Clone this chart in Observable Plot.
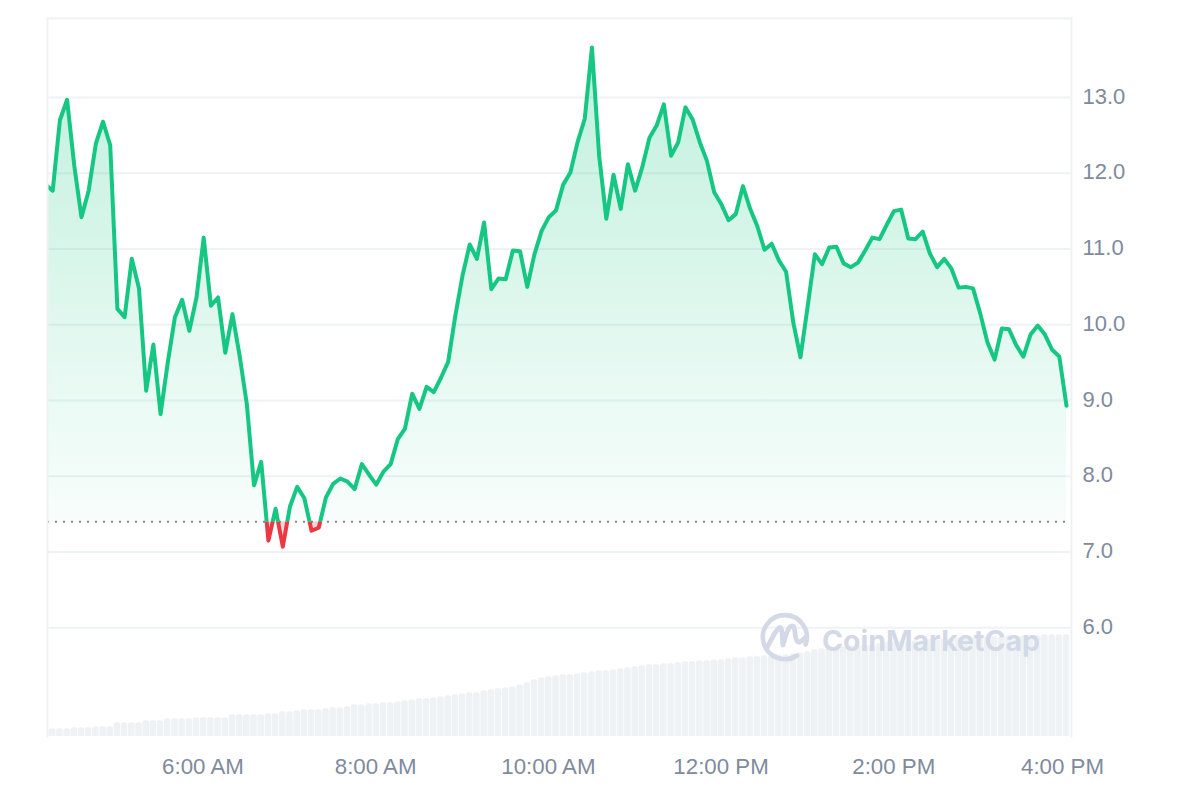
<!DOCTYPE html>
<html>
<head>
<meta charset="utf-8">
<style>html,body{margin:0;padding:0;background:#fff}</style>
<script src="https://cdn.jsdelivr.net/npm/d3@7"></script>
<script src="https://cdn.jsdelivr.net/npm/@observablehq/plot@0.6"></script>
</head>
<body>
<div id="chart"></div>
<script>
const prices = [
11.85,11.77,12.70,12.97,12.10,11.42,11.77,12.39,12.68,12.37,
10.21,10.10,10.87,10.48,9.13,9.74,8.82,9.50,10.10,10.33,
9.92,10.36,11.15,10.25,10.36,9.63,10.14,9.59,8.95,7.88,
8.19,7.15,7.57,7.07,7.60,7.86,7.71,7.28,7.32,7.72,
7.90,7.97,7.93,7.83,8.16,8.02,7.89,8.06,8.16,8.49,
8.63,9.09,8.89,9.18,9.11,9.30,9.51,10.12,10.65,11.06,
10.87,11.35,10.47,10.61,10.60,10.98,10.97,10.50,10.93,11.24,
11.42,11.51,11.85,12.01,12.41,12.72,13.66,12.23,11.40,11.98,
11.53,12.12,11.77,12.08,12.47,12.63,12.91,12.23,12.41,12.87,
12.71,12.41,12.16,11.75,11.59,11.38,11.46,11.83,11.53,11.30,
10.99,11.07,10.85,10.70,10.03,9.57,10.24,10.93,10.80,11.02,
11.03,10.81,10.76,10.82,10.98,11.15,11.13,11.32,11.50,11.52,
11.14,11.13,11.23,10.94,10.76,10.87,10.74,10.49,10.50,10.48,
10.15,9.77,9.54,9.95,9.94,9.73,9.58,9.87,9.99,9.87,
9.67,9.58,8.93];
const volumes = [
8,8,8,8,9,9,9,10,10,10,
14,14,14,14,16,16,16,18,18,18,
18,19,19,19,19,19,22,22,22,22,
22,23,23,25,25,26,27,27,27,28,
29,29,30,32,32,33,33,34,34,35,
36,37,38,38,39,40,41,42,43,44,
44,46,47,48,49,50,52,54,57,59,
60,61,62,62,63,64,65,66,66,67,
68,69,70,71,72,72,73,73,74,75,
75,76,76,77,77,78,79,79,80,80,
81,81,82,82,83,84,85,87,88,89,
90,90,91,91,92,92,93,94,94,95,
95,96,96,97,97,98,98,99,99,99,
100,100,100,100,101,101,101,101,101,102,
102,102,102];
const baseline = 7.4;
const yTicks = [6,7,8,9,10,11,12,13];
const xTickHours = [6,8,10,12,14];
const lastTickHour = 16;
const startHour = 4.177;
const domainStartHour = 4.2;

const hourDate = h => new Date(Date.UTC(2024,0,15) + h*3600e3);
const stepHours = (lastTickHour - startHour)/(prices.length-1);
const times = prices.map((_,i)=>hourDate(startHour + i*stepHours));
const rows = prices.map((p,i)=>({
  t: times[i], p, v: volumes[i],
  t1: new Date(+times[i] - stepHours*1800e3),
  t2: new Date(+times[i] + stepHours*1800e3)
}));

const yMin = 4.564, yMax = 14.043;
const volToY = d3.scaleLinear([0,103],[yMin,yMin+1.36]);
const GREEN="#16c784", RED="#ea3943", GRID="#eff2f5", LABEL="#808a9d";
const fmt = d3.utcFormat("%-I:%M %p");
const NS="http://www.w3.org/2000/svg";
const el=(n,a={},p)=>{const e=document.createElementNS(NS,n);for(const k in a)e.setAttribute(k,a[k]);if(p)p.appendChild(e);return e;};

function defsMark(index,scales,values,dims){
  const g=el("g");
  const defs=el("defs",{},g);
  const yb=scales.y(baseline), yt=scales.y(d3.max(prices)), ybot=scales.y(d3.min(prices));
  const W=dims.width,H=dims.height,L=dims.marginLeft;
  const above=el("clipPath",{id:"cAbove"},defs); el("rect",{x:L,y:0,width:W-L,height:yb},above);
  const below=el("clipPath",{id:"cBelow"},defs); el("rect",{x:L,y:yb,width:W-L,height:H-yb},below);
  const gg=el("linearGradient",{id:"gGreen",gradientUnits:"userSpaceOnUse",x1:0,x2:0,y1:yt,y2:yb},defs);
  el("stop",{offset:0,"stop-color":GREEN,"stop-opacity":0.27},gg);
  el("stop",{offset:1,"stop-color":GREEN,"stop-opacity":0.03},gg);
  const gr=el("linearGradient",{id:"gRed",gradientUnits:"userSpaceOnUse",x1:0,x2:0,y1:yb,y2:ybot},defs);
  el("stop",{offset:0,"stop-color":RED,"stop-opacity":0.25},gr);
  el("stop",{offset:1,"stop-color":RED,"stop-opacity":0.05},gr);
  return g;
}
const clipTo=id=>(i,s,v,d,c,next)=>{const g=next(i,s,v,d,c);g.setAttribute("clip-path",`url(#${id})`);return g;};

function watermark(){
  const g=el("g");
  const c="#d3d9e6";
  el("path",{d:"M805.6 644.5 A22 22 0 1 0 797 655.5",fill:"none",stroke:c,"stroke-width":4.6,"stroke-linecap":"round"},g);
  el("path",{d:"M767 648 C771 640 775 631 779 628 C783 625 782 640 783 645 C785 638 788 626 792 626 C796 626 794 636 797 641 C799 644 803 640 806 637",fill:"none",stroke:c,"stroke-width":4.8,"stroke-linecap":"round","stroke-linejoin":"round"},g);
  const t=el("text",{x:822,y:651,fill:c,"text-anchor":"start","font-family":"Inter, sans-serif","font-size":29,"font-weight":700,textLength:218,lengthAdjust:"spacingAndGlyphs"},g);
  t.textContent="CoinMarketCap";
  return g;
}

const plot = Plot.plot({
  width:1200, height:800,
  marginLeft:47, marginRight:129, marginTop:18, marginBottom:64,
  style:{background:"#fff",fontFamily:"'Liberation Sans',Arial,sans-serif"},
  x:{type:"utc",domain:[hourDate(domainStartHour),hourDate(16.058)],label:null},
  y:{domain:[yMin,yMax],label:null},
  marks:[
    defsMark,
    Plot.ruleY(yTicks,{stroke:GRID,strokeWidth:2}),
    Plot.rectY(rows,{x1:"t1",x2:"t2",y1:yMin-0.05,y2:d=>volToY(d.v),fill:GRID,inset:0.3,rx:2.5,clip:true}),
    watermark,
    Plot.areaY(rows,{x:"t",y1:baseline,y2:"p",fill:"url(#gGreen)",render:clipTo("cAbove")}),
    Plot.areaY(rows,{x:"t",y1:baseline,y2:"p",fill:"url(#gRed)",render:clipTo("cBelow")}),
    Plot.ruleY([baseline],{x1:hourDate(domainStartHour),x2:rows[rows.length-1].t,stroke:"#7f8a99",strokeWidth:2,strokeDasharray:"2 6"}),
    Plot.line(rows,{x:"t",y:"p",stroke:GREEN,strokeWidth:4,strokeLinejoin:"round",render:clipTo("cAbove")}),
    Plot.line(rows,{x:"t",y:"p",stroke:RED,strokeWidth:4,strokeLinejoin:"round",render:clipTo("cBelow")}),
    Plot.frame({anchor:"left",stroke:GRID,strokeWidth:2}),
    Plot.frame({anchor:"top",stroke:GRID,strokeWidth:2}),
    Plot.frame({anchor:"right",stroke:GRID,strokeWidth:2}),
    Plot.axisY(yTicks,{anchor:"right",tickSize:0,tickPadding:11,tickFormat:d=>d.toFixed(1),label:null,fontSize:22,fill:LABEL,dy:-1}),
    Plot.axisX(xTickHours.map(hourDate),{anchor:"bottom",tickSize:0,tickPadding:22,tickFormat:fmt,label:null,fontSize:22.3,fill:LABEL}),
    Plot.axisX([hourDate(lastTickHour)],{anchor:"bottom",tickSize:0,tickPadding:22,tickFormat:fmt,label:null,fontSize:22.3,fill:LABEL,dx:-4})
  ]
});
document.getElementById("chart").appendChild(plot);
</script>
</body>
</html>
